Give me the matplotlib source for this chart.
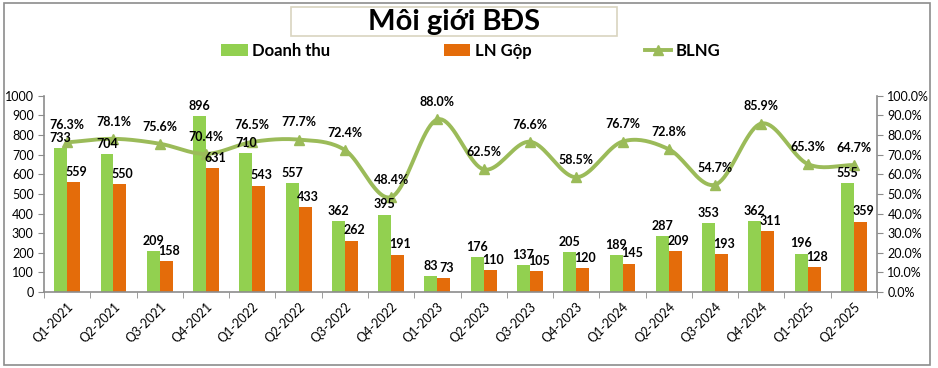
import numpy as np
import matplotlib.pyplot as plt
from matplotlib.patches import Rectangle

quarters = ['Q1-2021', 'Q2-2021', 'Q3-2021', 'Q4-2021', 'Q1-2022', 'Q2-2022',
            'Q3-2022', 'Q4-2022', 'Q1-2023', 'Q2-2023', 'Q3-2023', 'Q4-2023',
            'Q1-2024', 'Q2-2024', 'Q3-2024', 'Q4-2024', 'Q1-2025', 'Q2-2025']
doanh_thu = [733, 704, 209, 896, 710, 557, 362, 395, 83, 176, 137, 205,
             189, 287, 353, 362, 196, 555]
ln_gop = [559, 550, 158, 631, 543, 433, 262, 191, 73, 110, 105, 120,
          145, 209, 193, 311, 128, 359]
blng = [76.3, 78.1, 75.6, 70.4, 76.5, 77.7, 72.4, 48.4, 88.0, 62.5, 76.6, 58.5,
        76.7, 72.8, 54.7, 85.9, 65.3, 64.7]

GREEN = '#92D050'
ORANGE = '#E46C0A'
LINE = '#9BBB59'

plt.rcParams['font.family'] = ['Lato', 'DejaVu Sans']


def smooth(x, y, n=20):
    # catmull-rom style curve like Excel's smoothed line
    x = np.asarray(x, float)
    y = np.asarray(y, float)
    px = np.concatenate([[2 * x[0] - x[1]], x, [2 * x[-1] - x[-2]]])
    py = np.concatenate([[2 * y[0] - y[1]], y, [2 * y[-1] - y[-2]]])
    xs, ys = [], []
    t = np.linspace(0, 1, n, endpoint=False)
    for i in range(1, len(px) - 2):
        for p, out in ((px, xs), (py, ys)):
            p0, p1, p2, p3 = p[i - 1], p[i], p[i + 1], p[i + 2]
            out.extend(0.5 * ((2 * p1) + (-p0 + p2) * t
                              + (2 * p0 - 5 * p1 + 4 * p2 - p3) * t ** 2
                              + (-p0 + 3 * p1 - 3 * p2 + p3) * t ** 3))
    xs.append(x[-1])
    ys.append(y[-1])
    return np.array(xs), np.array(ys)


fig = plt.figure(figsize=(9.38, 3.68), dpi=100)
fig.patches.append(Rectangle((0.004, 0.008), 0.988, 0.985, transform=fig.transFigure,
                             fill=False, edgecolor='#8c8c8c', linewidth=1.2))
ax = fig.add_axes([0.047, 0.2065, 0.888, 0.533])
ax2 = ax.twinx()

x = np.arange(len(quarters))
w = 0.28
b1 = ax.bar(x - w / 2, doanh_thu, w, color=GREEN, label='Doanh thu', zorder=2)
b2 = ax.bar(x + w / 2, ln_gop, w, color=ORANGE, label='LN Gộp', zorder=2)

sx, sy = smooth(x, blng)
ax2.plot(sx, sy, color=LINE, linewidth=2.8, zorder=3)
ax2.plot(x, blng, color=LINE, marker='^', markersize=7.5, linestyle='none', zorder=4)
ln, = ax2.plot([], [], color=LINE, linewidth=2.8, marker='^', markersize=7.5, label='BLNG')
for xi, v in zip(x, blng):
    ax2.annotate(f'{v:.1f}%', (xi, v), xytext=(0, 8), textcoords='offset points',
                 ha='center', va='bottom', fontsize=9, fontweight='bold', zorder=6)

# bar labels drawn on the top axes so they sit over the line
for xi, v in zip(x, doanh_thu):
    ax2.annotate(str(v), (xi - w / 2, v), xycoords=ax.transData, xytext=(0, 3),
                 textcoords='offset points', ha='center', va='bottom',
                 fontsize=9, fontweight='bold', zorder=6)
for xi, v in zip(x, ln_gop):
    ax2.annotate(str(v), (xi + w / 2, v), xycoords=ax.transData, xytext=(2, 3),
                 textcoords='offset points', ha='center', va='bottom',
                 fontsize=9, fontweight='bold', zorder=6)

ax.set_xlim(-0.5, len(quarters) - 0.5)
ax.set_ylim(0, 1000)
ax.set_yticks(range(0, 1001, 100))
ax2.set_ylim(0, 100)
ax2.set_yticks(range(0, 101, 10))
ax2.set_yticklabels([f'{t:.1f}%' for t in range(0, 101, 10)])

ax.set_xticks(x)
ax.set_xticklabels(quarters, rotation=45, ha='right', rotation_mode='anchor', fontsize=9)
ax.set_xticks(np.arange(-0.5, len(quarters), 1), minor=True)
ax.tick_params(axis='x', which='major', length=0, pad=6)
ax.tick_params(axis='x', which='minor', length=4, color='#8c8c8c')
ax.tick_params(axis='y', labelsize=9, length=4, color='#8c8c8c')
ax2.tick_params(axis='y', labelsize=9, length=4, color='#8c8c8c')

for a in (ax, ax2):
    for s in a.spines.values():
        s.set_visible(False)
ax.spines['left'].set_visible(True)
ax.spines['bottom'].set_visible(True)
ax2.spines['right'].set_visible(True)
for s in (ax.spines['left'], ax.spines['bottom'], ax2.spines['right']):
    s.set_color('#8c8c8c')
    s.set_linewidth(1.2)

fig.patches.append(Rectangle((0.31, 0.902), 0.348, 0.078, transform=fig.transFigure,
                             fill=False, edgecolor='#d9d4c0', linewidth=1.2))
fig.text(0.484, 0.94, 'Môi giới BĐS', ha='center', va='center', fontsize=21,
         fontweight='bold')

fig.legend([b1, b2, ln], ['Doanh thu', 'LN Gộp', 'BLNG'], loc='center', ncol=3,
           bbox_to_anchor=(0.502, 0.862), frameon=False, columnspacing=6.8,
           handlelength=1.6, handletextpad=0.25,
           prop={'weight': 'bold', 'size': 12})

fig.savefig('out.png', dpi=100)
